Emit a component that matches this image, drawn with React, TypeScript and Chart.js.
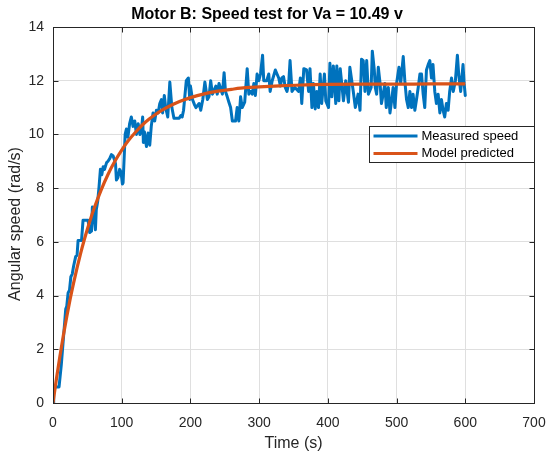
import { useEffect, useRef } from "react"
import { Chart, registerables, Plugin } from "chart.js"

Chart.register(...registerables)

// measured speed (s, rad/s)
const measuredTime = [
  0, 1, 8.8, 12, 14.5, 17, 18.5, 20, 22, 24, 26, 28, 30, 33, 35, 36.5, 41.5, 43.7, 51, 53.4,
  56, 57.3, 59.8, 61.7, 63, 65, 67, 69, 71, 73, 75, 78, 80, 82.5, 85, 87.5, 89.5, 91, 92.3, 94.5,
  97, 99, 101, 102, 104, 105, 106.8, 109, 111.5, 114, 116.5, 119, 121.4, 124, 126.5, 128.7, 130.5, 131.5, 133, 136,
  138.4, 140.8, 143, 145.6, 148, 150.5, 153, 155.4, 157.8, 159.5, 162, 164, 167, 170, 173, 176, 180, 183.6, 186, 188,
  190, 194, 197, 199, 200, 203, 206, 208, 212.6, 215, 218, 221, 224.7, 227, 229.5, 232, 237, 239, 241.6, 244,
  246.5, 249, 251, 253.6, 256, 258.5, 261, 265.7, 268, 270.5, 273, 275.4, 279, 282.6, 285, 288, 290, 292.3, 294.5, 297,
  299.5, 302, 305, 306.7, 311, 314, 316, 319, 323.6, 326, 328.5, 331, 333, 335.5, 338, 340.5, 343, 345, 347.8, 352,
  357.5, 360, 362, 365, 369, 372, 374, 376.8, 379, 381.6, 384, 386.4, 388.8, 391, 395, 397, 401, 403, 405.7, 408,
  411.5, 413, 416, 418, 422.7, 426, 430, 432, 437, 440, 444, 446.8, 449, 451.5, 454, 456.5, 459, 463, 464.7, 467.6,
  469, 471, 473.4, 476, 478, 480.5, 483, 485, 488, 490.4, 493, 495, 497.6, 500, 503.5, 506, 509.7, 512, 514.5, 517,
  519.4, 521.8, 524, 526.6, 529, 531.5, 534, 536.3, 538.7, 541, 543.5, 546, 548.4, 550.8, 553, 555.6, 558, 560.5, 563, 565.3,
  567.7, 570, 572.5, 575, 577.3, 580, 582.5, 585.6, 588.5, 590.4, 593.3, 596.7, 598.3, 600,
]
const measuredSpeed = [
  0, 0.6, 0.6, 1.4, 2.2, 3.0, 3.5, 3.6, 4.1, 4.2, 4.7, 4.8, 5.1, 5.45, 5.5, 6.05, 6.05, 6.8, 6.8, 6.35,
  6.4, 7.3, 6.95, 6.45, 7.2, 7.5, 8.05, 8.7, 8.5, 8.8, 8.7, 8.95, 9.0, 9.1, 9.25, 9.2, 9.05, 8.9, 8.3, 8.4,
  8.7, 8.6, 8.15, 8.2, 9.4, 10.0, 10.2, 9.9, 10.4, 10.65, 10.3, 10.5, 10.0, 10.4, 10.0, 10.15, 10.65, 9.7, 10.1, 9.55,
  10.05, 9.6, 10.3, 10.8, 10.5, 10.9, 10.8, 11.15, 11.3, 10.8, 11.45, 11.0, 10.65, 11.95, 11.0, 10.6, 10.6, 10.6, 10.7, 10.65,
  10.9, 12.0, 12.1, 11.3, 11.8, 11.3, 11.1, 11.0, 11.15, 10.9, 11.3, 11.95, 11.3, 11.4, 12.0, 11.5, 11.8, 11.5, 11.9, 11.7,
  11.5, 12.3, 11.6, 11.4, 11.2, 11.0, 10.5, 10.5, 11.0, 10.5, 11.4, 11.0, 11.2, 12.45, 11.5, 11.6, 11.5, 11.9, 11.45, 12.25,
  12.0, 12.25, 12.95, 12.0, 12.0, 12.25, 11.6, 12.0, 12.4, 12.25, 12.1, 11.8, 12.1, 12.15, 11.75, 11.6, 11.9, 12.75, 11.6, 11.75,
  11.6, 12.1, 11.15, 12.45, 12.4, 11.6, 12.45, 11.0, 11.9, 10.95, 11.6, 11.0, 12.25, 11.15, 12.25, 11.25, 11.0, 12.65, 11.4, 12.55,
  11.15, 12.55, 11.25, 12.45, 11.25, 12.0, 11.2, 12.5, 11.6, 11.0, 11.5, 10.9, 12.8, 12.75, 11.6, 12.75, 11.5, 11.75, 13.1, 12.4,
  11.75, 11.5, 12.5, 11.9, 11.15, 11.5, 11.9, 11.0, 11.75, 10.8, 11.3, 11.75, 11.0, 11.9, 12.5, 11.9, 12.9, 12.0, 11.3, 11.0,
  11.6, 11.0, 11.5, 10.9, 11.3, 11.75, 12.25, 12.25, 11.5, 11.0, 12.4, 12.6, 12.75, 12.1, 12.6, 11.6, 11.15, 11.5, 10.8, 11.3,
  10.9, 10.65, 11.15, 10.9, 11.6, 12.1, 11.6, 12.0, 12.95, 12.25, 11.6, 12.6, 11.9, 11.45,
]

// model predicted response (s, rad/s)
const modelTime = [
  0, 5, 10, 15, 20, 25, 30, 35, 40, 45, 50, 55, 60, 70, 80, 90, 100, 110, 120, 130,
  140, 150, 160, 170, 180, 190, 200, 220, 240, 260, 280, 300, 330, 360, 400, 450, 500, 550, 600,
]
const modelSpeed = [
  0, 0.9, 1.73, 2.5, 3.21, 3.87, 4.47, 5.03, 5.55, 6.03, 6.47, 6.88, 7.26, 7.93, 8.51, 9.0, 9.42, 9.78, 10.08, 10.35,
  10.57, 10.76, 10.92, 11.06, 11.18, 11.28, 11.37, 11.51, 11.61, 11.68, 11.74, 11.77, 11.81, 11.84, 11.86, 11.87, 11.87, 11.88, 11.88,
]

const seriesLabels = ["Measured speed", "Model predicted"]
const seriesColors = ["#0072bd", "#d95319"]

const FONT = "'Liberation Sans', Arial, Helvetica, sans-serif"
const AXIS_COLOR = "#262626"
const GRID_COLOR = "#dfdfdf"

// MATLAB-like box, inward ticks, y label and legend
const matlabAxes: Plugin<"line"> = {
  id: "matlabAxes",
  afterDatasetsDraw(chart) {
    const { ctx, chartArea: a, scales } = chart
    const l = Math.round(a.left) + 0.5
    const r = Math.round(a.right) + 0.5
    const t = Math.round(a.top) + 0.5
    const b = Math.round(a.bottom) + 0.5
    ctx.save()
    ctx.strokeStyle = AXIS_COLOR
    ctx.lineWidth = 1
    ctx.beginPath()
    for (const tick of scales.x.ticks) {
      const px = Math.round(scales.x.getPixelForValue(tick.value)) + 0.5
      ctx.moveTo(px, b)
      ctx.lineTo(px, b - 5)
      ctx.moveTo(px, t)
      ctx.lineTo(px, t + 5)
    }
    for (const tick of scales.y.ticks) {
      const py = Math.round(scales.y.getPixelForValue(tick.value)) + 0.5
      ctx.moveTo(l, py)
      ctx.lineTo(l + 5, py)
      ctx.moveTo(r, py)
      ctx.lineTo(r - 5, py)
    }
    ctx.stroke()
    ctx.strokeRect(l, t, r - l, b - t)
    ctx.restore()
  },
  afterDraw(chart) {
    const { ctx, chartArea: a } = chart
    ctx.save()
    // y axis title
    ctx.translate(15.5, 224)
    ctx.rotate(-Math.PI / 2)
    ctx.fillStyle = AXIS_COLOR
    ctx.font = `16px ${FONT}`
    ctx.textAlign = "center"
    ctx.textBaseline = "middle"
    ctx.fillText("Angular speed (rad/s)", 0, 0)
    ctx.restore()

    // legend box
    const w = 165
    const h = 36
    const x0 = Math.round(a.right - w) + 0.5
    const y0 = Math.round(a.top + 99) + 0.5
    ctx.save()
    ctx.fillStyle = "#ffffff"
    ctx.fillRect(x0, y0, w, h)
    ctx.strokeStyle = AXIS_COLOR
    ctx.lineWidth = 1
    ctx.strokeRect(x0, y0, w, h)
    ctx.font = `13px ${FONT}`
    ctx.textBaseline = "middle"
    ctx.textAlign = "left"
    chart.data.datasets.forEach((ds, i) => {
      const yy = y0 + 9.5 + i * 17.6
      ctx.strokeStyle = ds.borderColor as string
      ctx.lineWidth = 3
      ctx.beginPath()
      ctx.moveTo(x0 + 4, yy)
      ctx.lineTo(x0 + 48, yy)
      ctx.stroke()
      ctx.fillStyle = "#000000"
      ctx.fillText(ds.label as string, x0 + 52, yy)
    })
    ctx.restore()
  },
}

export default function App() {
  const canvasRef = useRef<HTMLCanvasElement>(null)
  const chartRef = useRef<Chart | null>(null)

  useEffect(() => {
    if (!canvasRef.current) return
    if (chartRef.current) chartRef.current.destroy()

    const measured = measuredTime.map((x, i) => ({ x, y: measuredSpeed[i] }))
    const model = modelTime.map((x, i) => ({ x, y: modelSpeed[i] }))

    chartRef.current = new Chart(canvasRef.current, {
      type: "line",
      data: {
        datasets: [
          {
            label: seriesLabels[0],
            data: measured,
            borderColor: seriesColors[0],
            borderWidth: 3,
            borderJoinStyle: "round",
            borderCapStyle: "round",
            pointRadius: 0,
            tension: 0,
            order: 1,
          },
          {
            label: seriesLabels[1],
            data: model,
            borderColor: seriesColors[1],
            borderWidth: 3.2,
            borderJoinStyle: "round",
            pointRadius: 0,
            cubicInterpolationMode: "monotone",
            order: 0,
          },
        ],
      },
      options: {
        animation: false,
        responsive: true,
        maintainAspectRatio: false,
        layout: { padding: { left: 0, right: 16, top: 0, bottom: 0 } },
        plugins: {
          legend: { display: false },
          tooltip: { enabled: false },
          title: {
            display: true,
            text: "Motor B: Speed test for Va = 10.49 v",
            color: "#000000",
            font: { family: FONT, size: 16, weight: "bold", lineHeight: 1.2 },
            padding: { top: 5.3, bottom: 2.5 },
          },
        },
        scales: {
          x: {
            type: "linear",
            min: 0,
            max: 700,
            border: { display: false },
            grid: { color: GRID_COLOR, drawTicks: false, lineWidth: 1 },
            ticks: {
              stepSize: 100,
              padding: 11.5,
              color: AXIS_COLOR,
              font: { family: FONT, size: 14 },
              maxRotation: 0,
            },
            title: {
              display: true,
              text: "Time (s)",
              color: AXIS_COLOR,
              font: { family: FONT, size: 16, lineHeight: 1.2 },
              padding: { top: 0, bottom: 1.4 },
            },
            afterFit: (scale) => {
              scale.height = 52
              scale.paddingLeft = 0
              scale.paddingRight = 0
            },
          },
          y: {
            type: "linear",
            min: 0,
            max: 14,
            border: { display: false },
            grid: { color: GRID_COLOR, drawTicks: false, lineWidth: 1 },
            ticks: {
              stepSize: 2,
              padding: 9,
              color: AXIS_COLOR,
              font: { family: FONT, size: 14 },
            },
            afterFit: (scale) => {
              scale.width = 53
              scale.paddingTop = 0
              scale.paddingBottom = 0
            },
          },
        },
      },
      plugins: [matlabAxes],
    })

    return () => {
      if (chartRef.current) {
        chartRef.current.destroy()
        chartRef.current = null
      }
    }
  }, [])

  return (
    <div style={{ position: "fixed", left: 0, top: 0, width: 550, height: 455, background: "#ffffff" }}>
      <canvas ref={canvasRef} />
    </div>
  )
}
